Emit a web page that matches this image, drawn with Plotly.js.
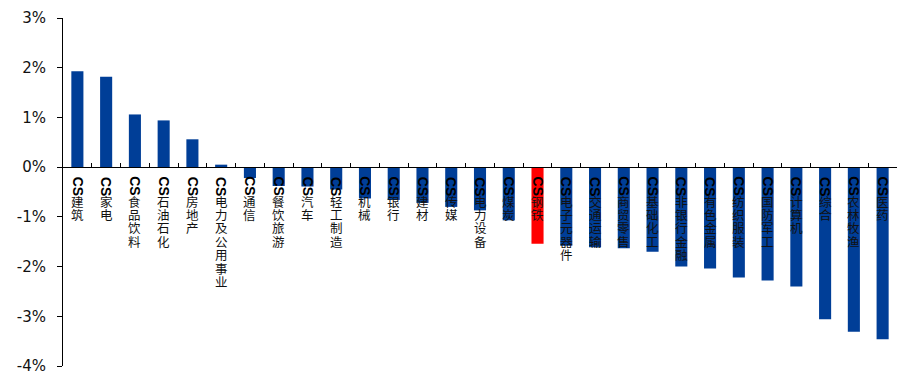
<!DOCTYPE html>
<html>
<head>
<meta charset="utf-8">
<script src="https://cdn.plot.ly/plotly-3.0.1.min.js"></script>
<style>
  html, body { margin: 0; padding: 0; background: #fff; }
  #chart { width: 897px; height: 371px; }
</style>
</head>
<body>
<div id="chart"></div>
<script>
// 中信一级行业涨跌幅（%）
const prefix = 'CS';
const industries = [
  '建筑', '家电', '食品饮料', '石油石化', '房地产', '电力及公用事业', '通信',
  '餐饮旅游', '汽车', '轻工制造', '机械', '银行', '建材', '传媒', '电力设备',
  '煤炭', '钢铁', '电子元器件', '交通运输', '商贸零售', '基础化工', '非银行金融',
  '有色金属', '纺织服装', '国防军工', '计算机', '综合', '农林牧渔', '医药'
];
const changes = [
  1.93, 1.82, 1.06, 0.94, 0.56, 0.05, -0.22,
  -0.38, -0.39, -0.45, -0.63, -0.66, -0.72, -0.80, -0.87,
  -1.07, -1.54, -1.58, -1.61, -1.63, -1.70, -2.00,
  -2.04, -2.22, -2.28, -2.40, -3.06, -3.31, -3.46
];
const highlighted = '钢铁';
const yTickVals = [3, 2, 1, 0, -1, -2, -3, -4];

const BLUE = '#003E97';
const RED = '#FF0000';

const yMin = -4, yMax = 3;

const trace = {
  type: 'bar',
  x: industries,
  y: changes,
  marker: {
    color: industries.map(n => n === highlighted ? RED : BLUE),
    line: { width: 0 }
  },
  hoverinfo: 'x+y'
};

// vertical category labels: rotated "CS" followed by stacked characters
const annotations = [];
const charStep = 13.4;
industries.forEach(name => {
  annotations.push({
    x: name, y: 0, xref: 'x', yref: 'y',
    text: prefix, textangle: 90, showarrow: false,
    xanchor: 'center', yanchor: 'middle', yshift: -19,
    font: { family: 'Liberation Sans, Arial, sans-serif', size: 14, color: '#000', weight: 'bold' }
  });
  Array.from(name).forEach((ch, k) => {
    annotations.push({
      x: name, y: 0, xref: 'x', yref: 'y',
      text: ch, showarrow: false,
      xanchor: 'center', yanchor: 'middle',
      yshift: -(34 + charStep * k),
      font: { family: 'Noto Sans CJK SC, sans-serif', size: 12.5, color: '#111' }
    });
  });
});

const layout = {
  width: 897, height: 371,
  margin: { l: 63, r: 0, t: 18, b: 5 },
  paper_bgcolor: '#fff', plot_bgcolor: '#fff',
  showlegend: false,
  bargap: 0.58,
  xaxis: {
    type: 'category',
    anchor: 'free',
    position: (0 - yMin) / (yMax - yMin),
    showline: true, linecolor: '#000', linewidth: 1,
    ticks: 'inside', tickson: 'boundaries', ticklen: 4, tickcolor: '#000',
    showticklabels: false, showgrid: false, zeroline: false,
    fixedrange: true
  },
  yaxis: {
    range: [yMin, yMax],
    tickvals: yTickVals,
    ticktext: yTickVals.map(v => v + '%'),
    showline: true, linecolor: '#000', linewidth: 1,
    ticks: 'outside', ticklen: 5, tickcolor: '#000',
    ticklabelstandoff: 8,
    ticklabeloverflow: 'allow',
    showgrid: false, zeroline: false,
    tickfont: { family: 'DejaVu Sans, Verdana, sans-serif', size: 15, color: '#111' },
    fixedrange: true
  },
  annotations: annotations
};

Plotly.newPlot('chart', [trace], layout, { displayModeBar: false, staticPlot: true });
</script>
</body>
</html>
